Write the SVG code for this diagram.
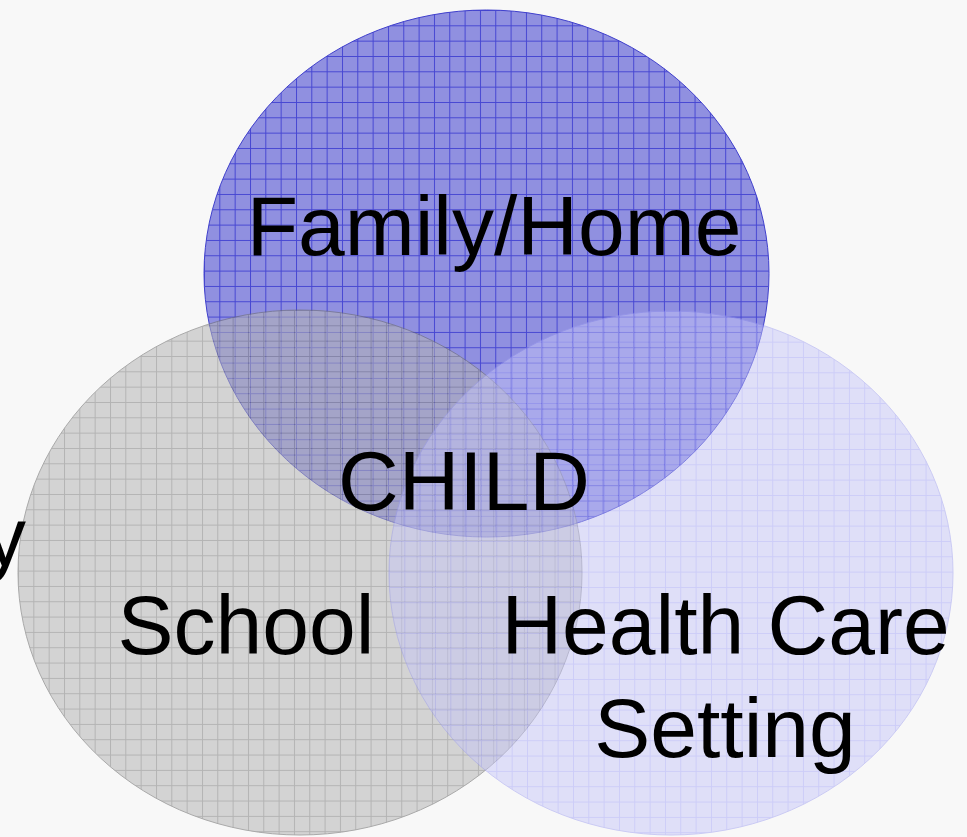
<svg xmlns="http://www.w3.org/2000/svg" width="967" height="837" viewBox="0 0 967 837">
  <defs>
    <pattern id="grid-family" patternUnits="userSpaceOnUse" x="204" y="10" width="15.33" height="15.33">
      <path d="M0 0.5H15.33M0.5 0V15.33" stroke="#4646d2" stroke-width="1" fill="none"/>
    </pattern>
    <pattern id="grid-school" patternUnits="userSpaceOnUse" x="18" y="310" width="15.33" height="15.33">
      <path d="M0 0.5H15.33M0.5 0V15.33" stroke="#7c7c7c" stroke-width="1" fill="none"/>
    </pattern>
    <pattern id="grid-health" patternUnits="userSpaceOnUse" x="389" y="311" width="15.33" height="15.33">
      <path d="M0 0.5H15.33M0.5 0V15.33" stroke="#9e9ef8" stroke-width="1" fill="none"/>
    </pattern>
  </defs>
  <style>
    .label { font-family: "Liberation Sans", Arial, sans-serif; font-size: 84px; fill: #000; text-anchor: middle; }
  </style>

  <rect width="967" height="837" fill="#f8f8f8"/>

  <g id="family-home">
    <ellipse cx="486.5" cy="273.5" rx="282.5" ry="263.5" fill="#9090e0"/>
    <ellipse cx="486.5" cy="273.5" rx="282.5" ry="263.5" fill="url(#grid-family)" stroke="#4040cc" stroke-width="1"/>
  </g>

  <g id="school" opacity="0.55">
    <ellipse cx="300" cy="572.5" rx="282" ry="262.5" fill="#b6b6b6"/>
    <ellipse cx="300" cy="572.5" rx="282" ry="262.5" fill="url(#grid-school)" stroke="#6a6a6a" stroke-width="1"/>
  </g>

  <g id="health-care" opacity="0.48">
    <ellipse cx="671" cy="573" rx="282" ry="262" fill="#c6c6f8"/>
    <ellipse cx="671" cy="573" rx="282" ry="262" fill="url(#grid-health)" stroke="#9a9af0" stroke-width="1"/>
  </g>

  <g id="labels">
    <text class="label" x="494" y="255">Family/Home</text>
    <text class="label" x="464" y="510">CHILD</text>
    <text class="label" x="246" y="654">School</text>
    <text class="label" x="725.5" y="654">Health Care</text>
    <text class="label" x="725" y="757">Setting</text>
    <text class="label" x="26" y="566" style="text-anchor:end">y</text>
  </g>
</svg>
